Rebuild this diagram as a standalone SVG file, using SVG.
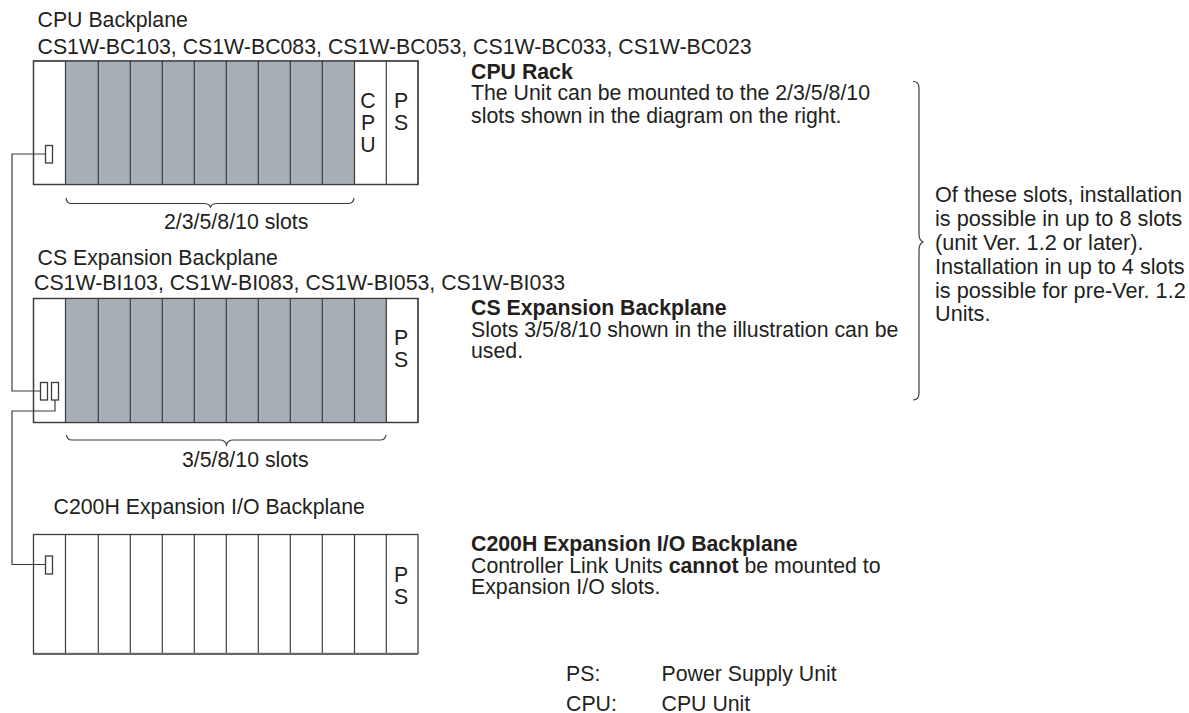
<svg xmlns="http://www.w3.org/2000/svg" width="1189" height="713" viewBox="0 0 1189 713">
<style>
text{font-family:"Liberation Sans",Arial,sans-serif;font-size:21.3px;fill:#231f20}
.b{font-weight:bold}
.r{font-size:21.7px}
.f{fill:none;stroke:#3c3c3c;stroke-width:1.2}
.o{fill:#fff;stroke:#3c3c3c;stroke-width:1.3}
.s{fill:#a7aeb6}
.d{stroke:#3c3c3c;stroke-width:1.2}
.c{text-anchor:middle}
</style>
<rect width="1189" height="713" fill="#fff"/>
<g id="cpu-rack">
<rect class="o" x="33.5" y="61" width="384.5" height="123.5"/>
<rect class="s" x="65.5" y="61.5" width="289" height="123"/>
<path class="d" d="M65.5 61V184.5M98.3 61V184.5M130.3 61V184.5M162.3 61V184.5M194.3 61V184.5M226.3 61V184.5M258.3 61V184.5M290.3 61V184.5M322.3 61V184.5M354.5 61V184.5M386.3 61V184.5"/>
<rect class="f" x="33.5" y="61" width="384.5" height="123.5"/>
<rect class="o" x="45.5" y="145.5" width="7" height="17.5"/>
<text class="c" x="368" y="108">C</text><text class="c" x="368" y="130">P</text><text class="c" x="368" y="152">U</text>
<text class="c" x="401" y="108">P</text><text class="c" x="401" y="130">S</text>
</g>
<g id="cs-rack">
<rect class="o" x="33.5" y="298.5" width="384.5" height="124"/>
<rect class="s" x="65.5" y="299" width="321" height="123"/>
<path class="d" d="M65.5 298V422.5M98.3 298V422.5M130.3 298V422.5M162.3 298V422.5M194.3 298V422.5M226.3 298V422.5M258.3 298V422.5M290.3 298V422.5M322.3 298V422.5M354.5 298V422.5M386.3 298V422.5"/>
<rect class="f" x="33.5" y="298.5" width="384.5" height="124"/>
<rect class="o" x="40.5" y="382.5" width="7" height="17.5"/>
<rect class="o" x="51.5" y="382.5" width="7" height="17.5"/>
<text class="c" x="401" y="345">P</text><text class="c" x="401" y="367">S</text>
</g>
<g id="c200h-rack">
<rect class="o" x="33.5" y="534.5" width="384.5" height="119"/>
<path class="d" d="M65.5 534V654M98.3 534V654M130.3 534V654M162.3 534V654M194.3 534V654M226.3 534V654M258.3 534V654M290.3 534V654M322.3 534V654M354.5 534V654M386.3 534V654"/>
<path stroke="#666" stroke-width="2" d="M33 654H418"/>
<rect class="o" x="45.5" y="556" width="7" height="18"/>
<text class="c" x="401" y="582">P</text><text class="c" x="401" y="604">S</text>
</g>
<g id="connectors" fill="none" stroke="#3c3c3c" stroke-width="1.2">
<path d="M45.5 154H12V391H40.5"/>
<path d="M55 400V411H12V564.5H45.5"/>
<path d="M66 198Q66.5 203.5 72 203.5H204Q209 203.5 210.5 207Q212 203.5 217 203.5H348Q353.5 203.5 354 198"/>
<path d="M66.5 435Q67 440 72 440H220Q225 440 226.5 445Q228 440 233 440H380Q385.5 440 386 435"/>
<path d="M913 81.5Q919 81.5 919 88V234Q919 240 923 242Q919 244 919 250V393Q919 400 913 400"/>
</g>
<g id="labels">
<text x="37.5" y="26.5">CPU Backplane</text>
<text x="37.5" y="53.5">CS1W-BC103, CS1W-BC083, CS1W-BC053, CS1W-BC033, CS1W-BC023</text>
<text x="164" y="229">2/3/5/8/10 slots</text>
<text x="37.5" y="265">CS Expansion Backplane</text>
<text x="34" y="290">CS1W-BI103, CS1W-BI083, CS1W-BI053, CS1W-BI033</text>
<text x="182" y="467">3/5/8/10 slots</text>
<text x="53.5" y="514">C200H Expansion I/O Backplane</text>
<text class="b" x="471" y="79">CPU Rack</text>
<text x="471" y="100">The Unit can be mounted to the 2/3/5/8/10</text>
<text x="471" y="122.5">slots shown in the diagram on the right.</text>
<text class="b" x="471" y="315">CS Expansion Backplane</text>
<text x="471" y="336.5">Slots 3/5/8/10 shown in the illustration can be</text>
<text x="471" y="358">used.</text>
<text class="b" x="471" y="551">C200H Expansion I/O Backplane</text>
<text x="471" y="572.5">Controller Link Units <tspan class="b">cannot</tspan> be mounted to</text>
<text x="471" y="593.5">Expansion I/O slots.</text>
<text class="r" x="935" y="202">Of these slots, installation</text>
<text class="r" x="935" y="226">is possible in up to 8 slots</text>
<text class="r" x="935" y="250">(unit Ver. 1.2 or later).</text>
<text class="r" x="935" y="274">Installation in up to 4 slots</text>
<text class="r" x="935" y="297.5">is possible for pre-Ver. 1.2</text>
<text class="r" x="935" y="321">Units.</text>
<text x="566" y="681">PS:</text><text x="661.5" y="681">Power Supply Unit</text>
<text x="566" y="711">CPU:</text><text x="661.5" y="711">CPU Unit</text>
</g>
</svg>
